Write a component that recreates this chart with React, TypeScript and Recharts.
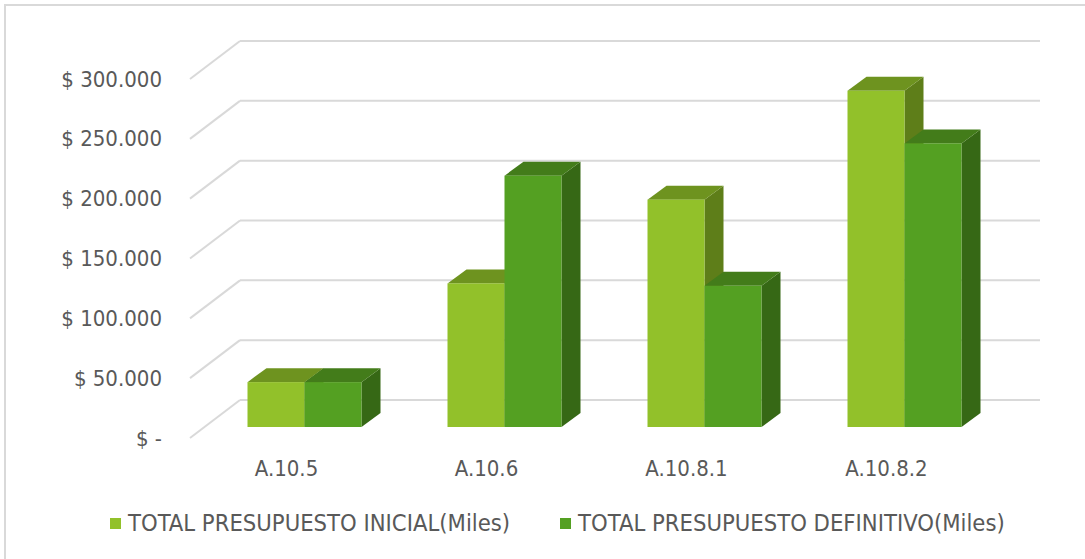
import React from "react";
import { BarChart, Bar, XAxis, YAxis, CartesianGrid, Legend } from "recharts";

// Valores (miles de $)
const categories = ["A.10.5", "A.10.6", "A.10.8.1", "A.10.8.2"];
const inicial = [37500, 120000, 190000, 281000];
const definitivo = [37500, 210000, 118000, 237000];
const yTicks = [0, 50000, 100000, 150000, 200000, 250000, 300000];
const seriesNames = ["TOTAL PRESUPUESTO INICIAL(Miles)", "TOTAL PRESUPUESTO DEFINITIVO(Miles)"];

const data = categories.map((name, i) => ({ name, inicial: inicial[i], definitivo: definitivo[i] }));

const FONT = "'DejaVu Sans Condensed', 'DejaVu Sans', sans-serif";
const TEXT = "#595959";
const GRID = "#d9d9d9";

// perspectiva
const DX = 19;
const DY = 14;

const LIGHT = { front: "#92c12a", top: "#6e931f", side: "#5e7e19" };
const DARK = { front: "#54a022", top: "#437c1a", side: "#366815" };

const make3DBar = (c: { front: string; top: string; side: string }) => (props: any) => {
  const { x, y, width, height } = props;
  if (height == null || width == null) return null;
  const top = `${x},${y} ${x + DX},${y - DY} ${x + width + DX},${y - DY} ${x + width},${y}`;
  const side = `${x + width},${y} ${x + width + DX},${y - DY} ${x + width + DX},${y + height - DY} ${x + width},${y + height}`;
  return (
    <g>
      <polygon points={side} fill={c.side} />
      <polygon points={top} fill={c.top} />
      <rect x={x} y={y} width={width} height={height} fill={c.front} />
    </g>
  );
};

const fmt = (v: number) => (v === 0 ? "$ -" : "$ " + v.toLocaleString("de-DE"));

const YTick = (props: any) => {
  const { y, payload } = props;
  return (
    <text x={162} y={y + 11} textAnchor="end" dominantBaseline="central" fontSize={22} fontFamily={FONT} style={{ fontStretch: "condensed", fill: TEXT }}>
      {fmt(payload.value)}
    </text>
  );
};

const XTick = (props: any) => {
  const { x, y, payload } = props;
  return (
    <text x={x - 18} y={y + 41} textAnchor="middle" dominantBaseline="central" fontSize={22} fontFamily={FONT} style={{ fontStretch: "condensed", fill: TEXT }}>
      {payload.value}
    </text>
  );
};

// líneas de cuadrícula con pared del fondo en perspectiva
const gridLine = (p: any) => {
  const { x1, x2, y1, index } = p;
  return (
    <g key={`g-${index}-${y1}`}>
      <line x1={x1 - 14.5} y1={y1 + 11} x2={x1 + 35.5} y2={y1 - 27} stroke={GRID} strokeWidth={2} />
      <line x1={x1 + 35.5} y1={y1 - 27} x2={x2 + 35.5} y2={y1 - 27} stroke={GRID} strokeWidth={2} />
    </g>
  );
};

const LegendContent = () => (
  <div style={{ display: "flex", alignItems: "center", marginLeft: 110, fontFamily: FONT, fontStretch: "condensed", fontSize: 23.6, color: TEXT }}>
    {seriesNames.map((n, i) => (
      <div key={n} style={{ display: "flex", alignItems: "center", marginRight: 50 }}>
        <span style={{ width: 11, height: 11, background: i === 0 ? LIGHT.front : DARK.front, marginRight: 7, display: "inline-block" }} />
        <span>{n}</span>
      </div>
    ))}
  </div>
);

export default function App() {
  return (
    <div style={{ position: "absolute", left: 0, top: 0, width: 1085, height: 559, background: "#fff" }}>
      <div style={{ position: "absolute", left: 4, top: 4, width: 1081, height: 555, borderTop: `2px solid ${GRID}`, borderLeft: `2px solid ${GRID}`, boxSizing: "border-box" }} />
      <BarChart
        width={1085}
        height={559}
        data={data}
        margin={{ top: 68, right: 80.5, left: 54.5, bottom: 72 }}
        barCategoryGap="21.5%"
        barGap={0}
      >
        <CartesianGrid vertical={false} horizontal={gridLine} />
        <XAxis dataKey="name" height={60} axisLine={false} tickLine={false} tickSize={0} tickMargin={0} tick={<XTick />} interval={0} />
        <YAxis width={150} domain={[0, 300000]} ticks={yTicks} axisLine={false} tickLine={false} tick={<YTick />} interval={0} />
        <Legend
          layout="horizontal"
          align="center"
          verticalAlign="middle"
          content={<LegendContent />}
          wrapperStyle={{ top: 509, left: 0, width: 1085 }}
        />
        <Bar dataKey="inicial" name={seriesNames[0]} fill={LIGHT.front} shape={make3DBar(LIGHT)} isAnimationActive={false} />
        <Bar dataKey="definitivo" name={seriesNames[1]} fill={DARK.front} shape={make3DBar(DARK)} isAnimationActive={false} />
      </BarChart>
    </div>
  );
}
